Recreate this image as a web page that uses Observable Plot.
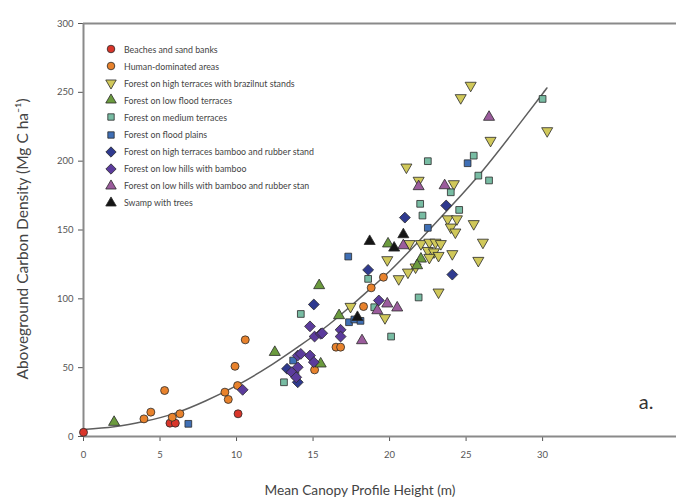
<!DOCTYPE html>
<html>
<head>
<meta charset="utf-8">
<script src="https://cdn.jsdelivr.net/npm/d3@7"></script>
<script src="https://cdn.jsdelivr.net/npm/@observablehq/plot@0.6"></script>
<style>
  html, body { margin: 0; padding: 0; background: #fff; }
  #wrap { position: relative; width: 676px; height: 503px; font-family: Lato, "Open Sans", sans-serif; }
  #legend { position: absolute; left: 104px; top: 40.5px; font-size: 8.8px; color: #444; }
  #legend .row { display: flex; align-items: center; height: 17.1px; white-space: nowrap; }
  #legend svg { width: 14px; height: 14px; margin-right: 6px; overflow: visible; }
</style>
</head>
<body>
<div id="wrap"><div id="legend"></div></div>
<script>
// ---- data ----
const seriesNames = [
  "Beaches and sand banks",
  "Human-dominated areas",
  "Forest on high terraces with brazilnut stands",
  "Forest on low flood terraces",
  "Forest on medium terraces",
  "Forest on flood plains",
  "Forest on high terraces bamboo and rubber stand",
  "Forest on low hills with bamboo",
  "Forest on low hills with bamboo and rubber stan",
  "Swamp with trees"
];

const beaches = [[0,3],[5.65,9.7],[6.0,9.7],[10.1,16.5]];
const humanDominated = [[3.95,12.8],[4.4,17.7],[5.3,33.4],[5.8,14],[6.3,16.5],[9.24,32.2],[9.46,26.9],[9.9,51],[10.07,37],[10.57,70.2],[15.1,48.4],[16.5,64.9],[16.8,64.9],[18.3,94.4],[18.8,108],[19.6,115.7]];
const highTerracesBrazilnut = [[17.45,94.4],[19.7,86.2],[19.85,128.3],[20.6,114.5],[21.1,195.6],[21.9,186],[21.2,119.3],[21.7,123],[21.3,140],[22.05,140],[22.6,141],[23.0,141],[23.35,140],[22.5,135],[22.9,134],[23.2,131.4],[22.6,130],[23.2,104.8],[23.8,158],[24.4,158],[24.0,152],[24.3,148.4],[24.1,132.7],[24.2,183.5],[24.65,246],[25.3,255],[25.5,154.5],[26.1,141],[25.8,127.8],[26.6,215],[30.3,222]];
const lowFloodTerraces = [[2.0,10.4],[12.5,61.2],[15.5,52.8],[15.4,109.7],[16.7,87.9],[19.9,140],[22.05,129],[21.8,124.2]];
const mediumTerraces = [[13.1,39.4],[13.85,44.3],[14.2,89],[18.6,114.5],[19.0,93.9],[20.1,72.6],[21.9,101],[22.0,169],[22.15,160.5],[22.5,200],[24.0,177.4],[24.55,164.6],[25.5,204],[25.8,189.5],[26.5,186],[30.0,245.2]];
const floodPlains = [[6.85,9.2],[13.7,55.2],[17.3,130.7],[17.35,83],[17.7,85],[18.1,84],[22.5,151.6],[25.1,198.5]];
const highTerracesBambooRubber = [[15.05,95.9],[18.6,121],[21.0,159],[23.7,167.8],[24.1,117.6],[13.3,49.2],[14.0,39.4]];
const lowHillsBamboo = [[10.4,33.9],[13.6,46.7],[14.0,58.8],[14.2,60],[14.8,58.8],[14.0,50.3],[13.9,43],[15.05,54],[14.8,80],[15.1,72.6],[15.5,74.6],[15.6,75],[16.8,77.5],[16.8,72.6],[19.3,98.8]];
const lowHillsBambooRubber = [[18.2,69.7],[19.85,96.4],[20.5,93.5],[20.9,138.7],[21.9,181.6],[23.6,182.3],[26.5,232],[19.2,91.5]];
const swampWithTrees = [[17.9,86.6],[18.7,141.8],[20.3,137],[20.9,146.7]];

const fitCurveX = [0,2,4,6,8,10,12,14,16,18,20,22,24,26,28,30,30.2];
const fitCurveY = [5,7,11,17,26,37,50,65,81,100,120,143,167,192,220,249,252];

const xTicks = [0,5,10,15,20,25,30];
const yTicks = [0,50,100,150,200,250,300];

// ---- styling ----
const sqrt3 = Math.sqrt(3);
const triangleDown = {
  draw(context, size) {
    const y = -Math.sqrt(size / (sqrt3 * 3));
    context.moveTo(0, -y * 2);
    context.lineTo(-sqrt3 * y, y);
    context.lineTo(sqrt3 * y, y);
    context.closePath();
  }
};
const seriesData = [beaches, humanDominated, highTerracesBrazilnut, lowFloodTerraces, mediumTerraces, floodPlains, highTerracesBambooRubber, lowHillsBamboo, lowHillsBambooRubber, swampWithTrees];
const seriesColors = ["#d9352a","#e8822c","#d0c85a","#6b9b3e","#78bca3","#3f6fb5","#2f3a8f","#5b3b9c","#9b5c9c","#151515"];
const seriesSymbols = [d3.symbolCircle, d3.symbolCircle, triangleDown, d3.symbolTriangle, d3.symbolSquare, d3.symbolSquare, d3.symbolDiamond2, d3.symbolDiamond2, d3.symbolTriangle, d3.symbolTriangle];
const seriesR = [4.0,4.0,4.1,4.1,3.8,3.8,4.9,4.9,4.1,4.1];

const curve = fitCurveX.map((x, i) => ({x, y: fitCurveY[i]}));
const axisColor = "#8a8a8a";

const dotMarks = seriesData.map((pts, i) => Plot.dot(pts.map(([x, y]) => ({x, y, s: seriesNames[i]})), {
  x: "x", y: "y", r: seriesR[i], symbol: seriesSymbols[i], fill: seriesColors[i], stroke: "#2a2a2a", strokeWidth: 0.8
}));

const chart = Plot.plot({
  width: 676, height: 503,
  marginLeft: 83, marginRight: 0, marginTop: 23, marginBottom: 67,
  style: {fontFamily: "Lato, 'Open Sans', sans-serif", fontSize: "9.5px", color: "#555", background: "#fff"},
  x: {domain: [0, 38.75], ticks: xTicks, tickSize: 5, tickPadding: 10, label: null},
  y: {domain: [0, 300], ticks: yTicks, tickSize: 5, tickPadding: 5, label: null},
  marks: [
    Plot.ruleY([300], {stroke: axisColor, strokeWidth: 2}),
    Plot.ruleY([0], {stroke: axisColor, strokeWidth: 2}),
    Plot.ruleX([0], {stroke: axisColor, strokeWidth: 2}),
    Plot.line(curve, {x: "x", y: "y", stroke: "#5e5e5e", strokeWidth: 1.5, curve: "natural"}),
    ...dotMarks,
    Plot.text(["Mean Canopy Profile Height (m)"], {frameAnchor: "bottom", dx: -20, dy: 58, fontSize: 13.7, fill: "#444"}),
    Plot.text(["Aboveground Carbon Density (Mg C ha⁻¹)"], {frameAnchor: "left", textAnchor: "middle", rotate: -90, dx: -60, dy: 9, fontSize: 15.5, fill: "#444"}),
    Plot.text(["a."], {frameAnchor: "bottom-right", dx: -23, dy: -28, fontSize: 20, fill: "#333"})
  ]
});
document.getElementById("wrap").prepend(chart);

// legend
const legend = d3.select("#legend");
seriesNames.forEach((name, i) => {
  const row = legend.append("div").attr("class", "row");
  const svg = row.append("svg").attr("viewBox", "-7 -7 14 14");
  const r = seriesR[i] * 0.95;
  svg.append("path")
    .attr("d", d3.symbol(seriesSymbols[i], Math.PI * r * r)())
    .attr("fill", seriesColors[i]).attr("stroke", "#2a2a2a").attr("stroke-width", 0.8);
  row.append("span").text(name);
});
</script>
</body>
</html>
